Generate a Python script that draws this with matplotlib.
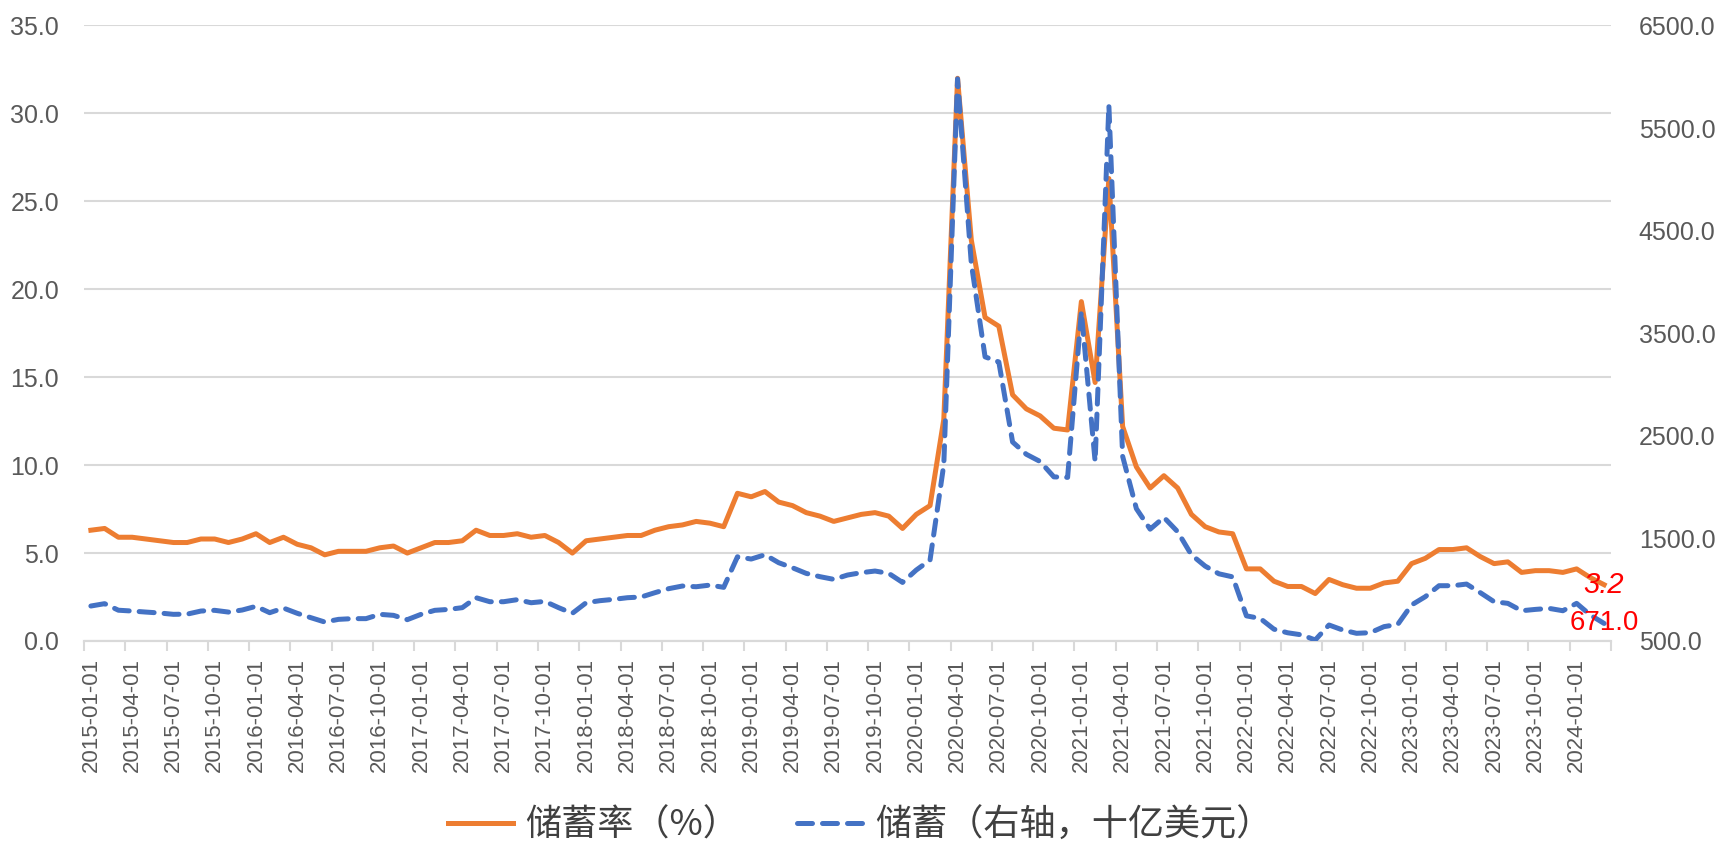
import numpy as np
import pandas as pd
import matplotlib
matplotlib.use('Agg')
from matplotlib import pyplot as plt
from matplotlib.ticker import FixedLocator, FormatStrFormatter

# monthly data, 2015-01 .. 2024-03
months = pd.date_range('2015-01-01', periods=111, freq='MS').strftime('%Y-%m-%d').tolist()

rate = [6.3, 6.4, 5.9, 5.9, 5.8, 5.7, 5.6, 5.6, 5.8, 5.8, 5.6, 5.8,
        6.1, 5.6, 5.9, 5.5, 5.3, 4.9, 5.1, 5.1, 5.1, 5.3, 5.4, 5.0,
        5.3, 5.6, 5.6, 5.7, 6.3, 6.0, 6.0, 6.1, 5.9, 6.0, 5.6, 5.0,
        5.7, 5.8, 5.9, 6.0, 6.0, 6.3, 6.5, 6.6, 6.8, 6.7, 6.5, 8.4,
        8.2, 8.5, 7.9, 7.7, 7.3, 7.1, 6.8, 7.0, 7.2, 7.3, 7.1, 6.4,
        7.2, 7.7, 12.6, 32.0, 22.8, 18.4, 17.9, 14.0, 13.2, 12.8, 12.1, 12.0,
        19.3, 14.7, 26.3, 12.2, 9.9, 8.7, 9.4, 8.7, 7.2, 6.5, 6.2, 6.1,
        4.1, 4.1, 3.4, 3.1, 3.1, 2.7, 3.5, 3.2, 3.0, 3.0, 3.3, 3.4,
        4.4, 4.7, 5.2, 5.2, 5.3, 4.8, 4.4, 4.5, 3.9, 4.0, 4.0, 3.9,
        4.1, 3.6, 3.2]

saving = [841, 864, 800, 792, 782, 773, 760, 762, 792, 799, 782, 802,
          838, 776, 821, 770, 727, 685, 711, 718, 718, 760, 750, 708,
          760, 799, 808, 825, 922, 883, 883, 903, 873, 886, 825, 770,
          873, 893, 906, 922, 929, 971, 1010, 1036, 1029, 1045, 1023, 1321,
          1299, 1341, 1263, 1214, 1159, 1127, 1101, 1143, 1166, 1182, 1159, 1071,
          1192, 1289, 2220, 5980, 4180, 3270, 3220, 2440, 2320, 2250, 2100, 2095,
          3710, 2250, 5720, 2300, 1790, 1590, 1705, 1565, 1340, 1230, 1155, 1125,
          745, 720, 615, 580, 560, 510, 656, 607, 575, 581, 640, 662,
          851, 932, 1039, 1039, 1055, 971, 883, 867, 795, 808, 818, 795,
          867, 753, 671.0]

left_ticks = [0, 5, 10, 15, 20, 25, 30, 35]
right_ticks = [500, 1500, 2500, 3500, 4500, 5500, 6500]

orange = '#ED7D31'
blue = '#4472C4'
grey = '#595959'

plt.rcParams['font.family'] = ['Liberation Sans', 'DejaVu Sans']

fig = plt.figure(figsize=(17.16, 8.41), dpi=100)
ax = fig.add_axes([84/1716, 1-641/841, (1611-84)/1716, (641-25.5)/841])
ax2 = ax.twinx()

x = np.arange(len(months))
l1, = ax.plot(x, rate, color=orange, lw=3.6, solid_joinstyle='round', zorder=3,
              label='储蓄率（%）')
l2, = ax2.plot(x, saving, color=blue, lw=3.6, dashes=(3, 2), dash_capstyle='round',
               zorder=3, label='储蓄（右轴，十亿美元）')

ax.set_xlim(-0.5, len(months) - 0.5)
ax.set_ylim(0, 35)
ax2.set_ylim(500, 6500)

ax.yaxis.set_major_locator(FixedLocator(left_ticks))
ax.yaxis.set_major_formatter(FormatStrFormatter('%.1f'))
ax2.yaxis.set_major_locator(FixedLocator(right_ticks))
ax2.yaxis.set_major_formatter(FormatStrFormatter('%.1f'))

ax.grid(axis='y', color='#D9D9D9', lw=1.5)
ax.set_axisbelow(True)

# tick marks at quarter boundaries, labels centred on categories
ax.set_xticks(np.arange(-0.5, len(months), 3))
ax.set_xticklabels([])
lab_pos = np.arange(0, len(months), 3)
ax.set_xticks(lab_pos, minor=True)
ax.set_xticklabels([months[i] for i in lab_pos], minor=True, rotation=90,
                   fontsize=16, color=grey)
ax.tick_params(axis='x', which='major', length=7, width=1.5, color='#D9D9D9')
ax.tick_params(axis='x', which='minor', length=0, pad=12)
ax.tick_params(axis='y', length=0, labelsize=18, labelcolor=grey, pad=18)
ax2.tick_params(axis='y', length=0, labelsize=18, labelcolor=grey, pad=20)

for a in (ax, ax2):
    for s in ('top', 'left', 'right'):
        a.spines[s].set_visible(False)
    a.spines['bottom'].set_color('#D9D9D9')
    a.spines['bottom'].set_linewidth(1.5)

ax.text(x[-1], rate[-1], '%.1f' % rate[-1], color='red', fontsize=21,
        style='italic', ha='center', va='center', zorder=5)
ax2.text(x[-1], saving[-1], '%.1f' % saving[-1], color='red', fontsize=20,
         ha='center', va='center', zorder=5)

fig.legend(handles=[l1, l2], loc='center', bbox_to_anchor=(860/1716, 1-826/841),
           ncol=2, frameon=False, handlelength=1.8, handletextpad=0.35,
           columnspacing=1.6,
           prop={'family': ['Noto Sans CJK SC', 'DejaVu Sans'], 'size': 26})
for t in fig.legends[0].get_texts():
    t.set_color('#404040')

fig.savefig('out.png', dpi=100)
